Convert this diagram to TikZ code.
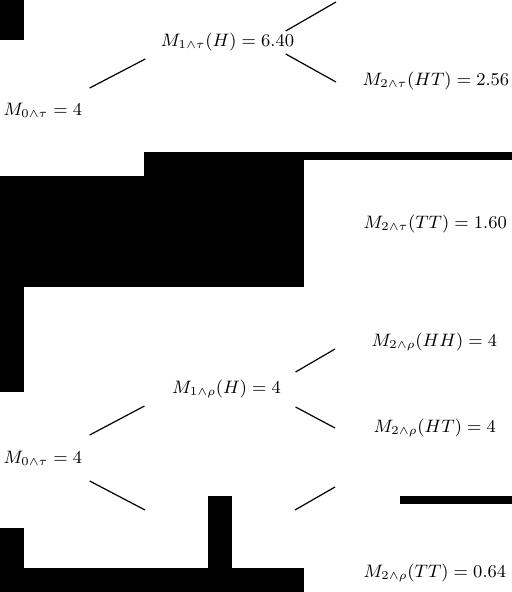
\documentclass[tikz,border=0pt]{standalone}
\begin{document}
\begin{tikzpicture}[x=0.5pt, y=-0.5pt, line width=0.6pt, val/.style={inner sep=0pt, font=\fontsize{9.2pt}{11pt}\selectfont}]
		\useasboundingbox (0,0) rectangle (512,592);
		%tree stopped at tau
		\node[val, anchor=west] (t0) at (3,110){$M_{0\wedge\tau}=4$};
		\node[val] (t1) at (227.5,42){$M_{1\wedge\tau}(H)=6.40$};
		\node[val, anchor=west] (tHT) at (362,81){$M_{2\wedge\tau}(HT)=2.56$};
		\node[val, anchor=west] (tTT) at (363,224){$M_{2\wedge\tau}(TT)=1.60$};
		\coordinate (tHH) at (336,2);
		
		\draw (t0.east) ++(7,-22) -- ([shift={(-15,17)}]t1.west);
		\draw (t1.east) ++(-9,-11) -- (tHH);
		\draw (t1.east) ++(-9,12) -- ([shift={(-26,1)}]tHT.west);
		
		%tree stopped at rho
		\node[val, anchor=west] (r0) at (3,458){$M_{0\wedge\tau}=4$};
		\node[val] (r1) at (226.5,389){$M_{1\wedge\rho}(H)=4$};
		\node[val, anchor=west] (rHH) at (371,342){$M_{2\wedge\rho}(HH)=4$};
		\node[val, anchor=west] (rHT) at (373,428){$M_{2\wedge\rho}(HT)=4$};
		\node[val, anchor=west] (rTT) at (363,573){$M_{2\wedge\rho}(TT)=0.64$};
		\coordinate (rT) at (220,520);
		\coordinate (rTH) at (335,487);
		
		\draw (r0.east) ++(7,-23) -- ([shift={(-27,17)}]r1.west);
		\draw (r0.east) ++(7,23) -- ([shift={(-75,-10)}]rT);
		\draw (r1.east) ++(14,-17) -- ([shift={(-36,7)}]rHH.west);
		\draw (r1.east) ++(14,18) -- ([shift={(-38,0)}]rHT.west);
		\draw ([shift={(75,-10)}]rT) -- (rTH);
		
		%black bars
		\fill (0,0) rectangle (24,40);
		\fill (144,152) rectangle (512,160);
		\fill (144,152) rectangle (304,287);
		\fill (0,176) rectangle (144,287);
		\fill (0,287) rectangle (24,392);
		\fill (0,528) rectangle (24,592);
		\fill (0,568) rectangle (304,592);
		\fill (208,496) rectangle (232,568);
		\fill (400,496) rectangle (512,504);
\end{tikzpicture}
\end{document}
